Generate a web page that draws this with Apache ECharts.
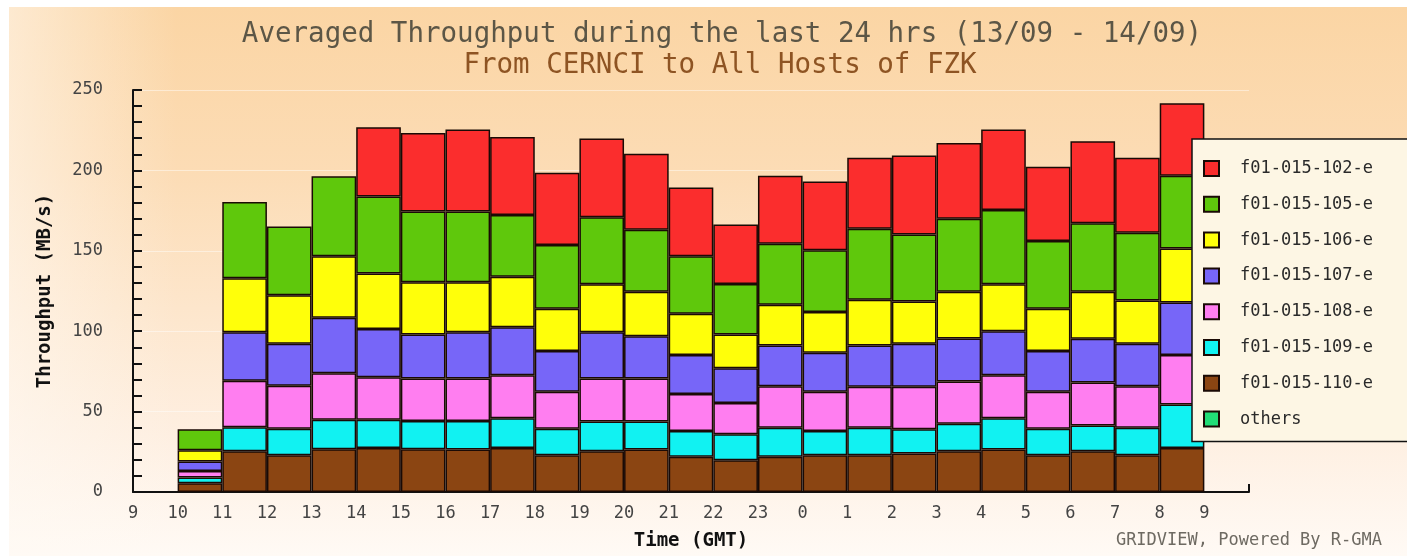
<!DOCTYPE html>
<html>
<head>
<meta charset="utf-8">
<script src="https://cdn.jsdelivr.net/npm/echarts@6/dist/echarts.min.js"></script>
<style>
  html, body { margin: 0; padding: 0; background: #fff; }
  #chart {
    position: absolute; left: 9px; top: 7px; width: 1398px; height: 549px;
    background:
      linear-gradient(to right, rgba(255,250,244,0.55) 0%, rgba(255,250,244,0) 12%),
      linear-gradient(to bottom, #fbd5a4 0%, #fcdcb5 30%, #fde6cc 55%, #feefe1 78%, #fffaf5 100%);
  }
</style>
</head>
<body>
<div id="chart"></div>
<script>
// one slot per hour, starting at 9 GMT on 13/09
var slots = ['9','10','11','12','13','14','15','16','17','18','19','20','21','22','23','0','1','2','3','4','5','6','7','8','9'];
var tickLabels = ['9','10','11','12','13','14','15','16','17','18','19','20','21','22','23','0','1','2','3','4','5','6','7','8','9'];
// bars start at the 10 GMT slot (index 1), 23 hours
var firstBar = 1;

var f110 = [5.5, 25.4, 22.9, 26.6, 27.4, 26.6, 26.4, 27.4, 22.9, 25.4, 26.4, 21.9, 19.8, 21.9, 22.9, 22.9, 23.9, 25.4, 26.4, 22.9, 25.4, 22.9, 27.4];
var f109 = [3.5, 14.8, 16.5, 18.3, 17.5, 17.5, 17.7, 18.5, 16.5, 18.5, 17.5, 16.0, 16.1, 18.1, 15.0, 17.1, 15.1, 17.0, 19.5, 16.5, 16.0, 17.1, 27.0];
var f108 = [4.0, 29.0, 26.7, 29.0, 26.5, 26.5, 26.5, 26.7, 23.0, 26.7, 26.7, 23.0, 19.5, 25.7, 24.5, 25.5, 26.5, 26.3, 26.7, 23.0, 26.7, 25.7, 30.8];
var f107 = [6.0, 30.2, 26.1, 34.5, 30.0, 27.3, 28.8, 29.8, 25.3, 28.8, 26.3, 24.3, 21.6, 25.4, 24.2, 25.6, 26.7, 26.7, 27.4, 25.3, 27.2, 26.5, 32.7];
var f106 = [7.0, 33.5, 30.2, 38.2, 34.5, 32.5, 31.0, 31.5, 26.3, 29.8, 27.7, 25.7, 20.9, 25.3, 25.3, 28.4, 26.3, 29.2, 29.2, 26.3, 29.3, 26.9, 33.5];
var f105 = [13.0, 47.4, 42.7, 49.8, 47.9, 44.0, 44.0, 38.4, 39.6, 41.7, 38.5, 35.7, 31.5, 38.0, 38.4, 44.2, 41.7, 45.3, 46.2, 42.1, 42.6, 42.1, 45.2];
var f102 = [null, null, null, null, 43.0, 48.9, 51.0, 48.5, 45.0, 48.9, 47.3, 42.8, 36.9, 42.2, 42.8, 44.2, 49.1, 47.2, 50.0, 46.2, 50.9, 46.7, 45.2];
var others = [null, null, null, null, null, null, null, null, null, null, null, null, null, null, null, null, null, null, null, null, null, null, null];

var hosts = ['f01-015-102-e', 'f01-015-105-e', 'f01-015-106-e', 'f01-015-107-e', 'f01-015-108-e', 'f01-015-109-e', 'f01-015-110-e', 'others'];

var font = 'DejaVu Sans Mono';

function pad(vals) {
  var out = [];
  for (var i = 0; i < slots.length; i++) {
    var j = i - firstBar;
    out.push(j >= 0 && j < vals.length ? vals[j] : null);
  }
  return out;
}

function bar(name, vals, color) {
  return {
    name: name,
    type: 'bar',
    stack: 'all',
    xAxisIndex: 0,
    barCategoryGap: 0,
    data: pad(vals),
    itemStyle: { color: color, borderColor: '#1a0a05', borderWidth: 1.5 },
    emphasis: { disabled: true }
  };
}

var chart = echarts.init(document.getElementById('chart'));

var option = {
  animation: false,
  title: [
    {
      text: 'Averaged Throughput during the last 24 hrs (13/09 - 14/09)',
      left: 708, top: 9, textAlign: 'center',
      textStyle: { fontFamily: font, fontSize: 27.5, fontWeight: 'normal', color: '#5c5646' }
    },
    {
      text: 'From CERNCI to All Hosts of FZK',
      left: 706, top: 40, textAlign: 'center',
      textStyle: { fontFamily: font, fontSize: 27.5, fontWeight: 'normal', color: '#8e5423' }
    },
    {
      text: 'GRIDVIEW, Powered By R-GMA',
      right: 20, bottom: 2,
      textStyle: { fontFamily: font, fontSize: 17, fontWeight: 'normal', color: '#6e6a62' }
    }
  ],
  legend: {
    orient: 'vertical',
    left: 1183, top: 132,
    data: hosts,
    backgroundColor: '#fdf6e4',
    borderColor: '#111',
    borderWidth: 1.5,
    borderRadius: 0,
    padding: [21, 60, 14, 11],
    itemWidth: 15, itemHeight: 15,
    itemGap: 18.8,
    icon: 'rect',
    selectedMode: false,
    textStyle: { fontFamily: font, fontSize: 17, color: '#2a2a2a', lineHeight: 16, padding: [0, 0, 0, 16] }
  },
  grid: { left: 124, right: 158, top: 83, bottom: 60, containLabel: false },
  xAxis: [
    {
      type: 'category',
      data: slots,
      position: 'bottom',
      axisLine: { show: true, lineStyle: { color: '#111', width: 2 } },
      axisTick: { show: false },
      axisLabel: { show: false },
      splitLine: { show: false }
    },
    {
      type: 'value',
      min: 0, max: 25, interval: 1,
      position: 'bottom',
      name: 'Time (GMT)',
      nameLocation: 'middle',
      nameGap: 40,
      nameTextStyle: { fontFamily: font, fontSize: 19, fontWeight: 'bold', color: '#111' },
      axisLine: { show: false },
      axisTick: { show: false },
      splitLine: { show: false },
      axisLabel: {
        margin: 13,
        fontFamily: font, fontSize: 17, color: '#444',
        formatter: function (v) { return tickLabels[v] !== undefined ? tickLabels[v] : ''; }
      }
    },
    {
      type: 'value',
      min: 0, max: 25, interval: 25,
      position: 'bottom',
      axisLine: { show: false },
      axisTick: { show: true, inside: true, length: 8, lineStyle: { color: '#111', width: 2 } },
      axisLabel: { show: false },
      splitLine: { show: false }
    }
  ],
  yAxis: {
    type: 'value',
    min: 0, max: 250, interval: 50,
    name: 'Throughput (MB/s)',
    nameLocation: 'middle',
    nameGap: 78,
    nameRotate: 90,
    nameTextStyle: { fontFamily: font, fontSize: 19, fontWeight: 'bold', color: '#111' },
    axisLine: { show: true, lineStyle: { color: '#111', width: 2 } },
    axisTick: { show: true, inside: true, length: 9, lineStyle: { color: '#111', width: 2 } },
    minorTick: { show: true, splitNumber: 5, length: 9, lineStyle: { color: '#111', width: 2 } },
    axisLabel: { margin: 30, fontFamily: font, fontSize: 17, color: '#444' },
    splitLine: { show: true, lineStyle: { color: 'rgba(255,255,255,0.45)', width: 1 } }
  },
  series: [
    bar(hosts[6], f110, '#8b4512'),
    bar(hosts[5], f109, '#11f2f2'),
    bar(hosts[4], f108, '#ff7ef0'),
    bar(hosts[3], f107, '#7766f8'),
    bar(hosts[2], f106, '#ffff0a'),
    bar(hosts[1], f105, '#5fc80c'),
    bar(hosts[0], f102, '#fb2d2d'),
    bar(hosts[7], others, '#22dd77')
  ]
};

chart.setOption(option);
</script>
</body>
</html>
